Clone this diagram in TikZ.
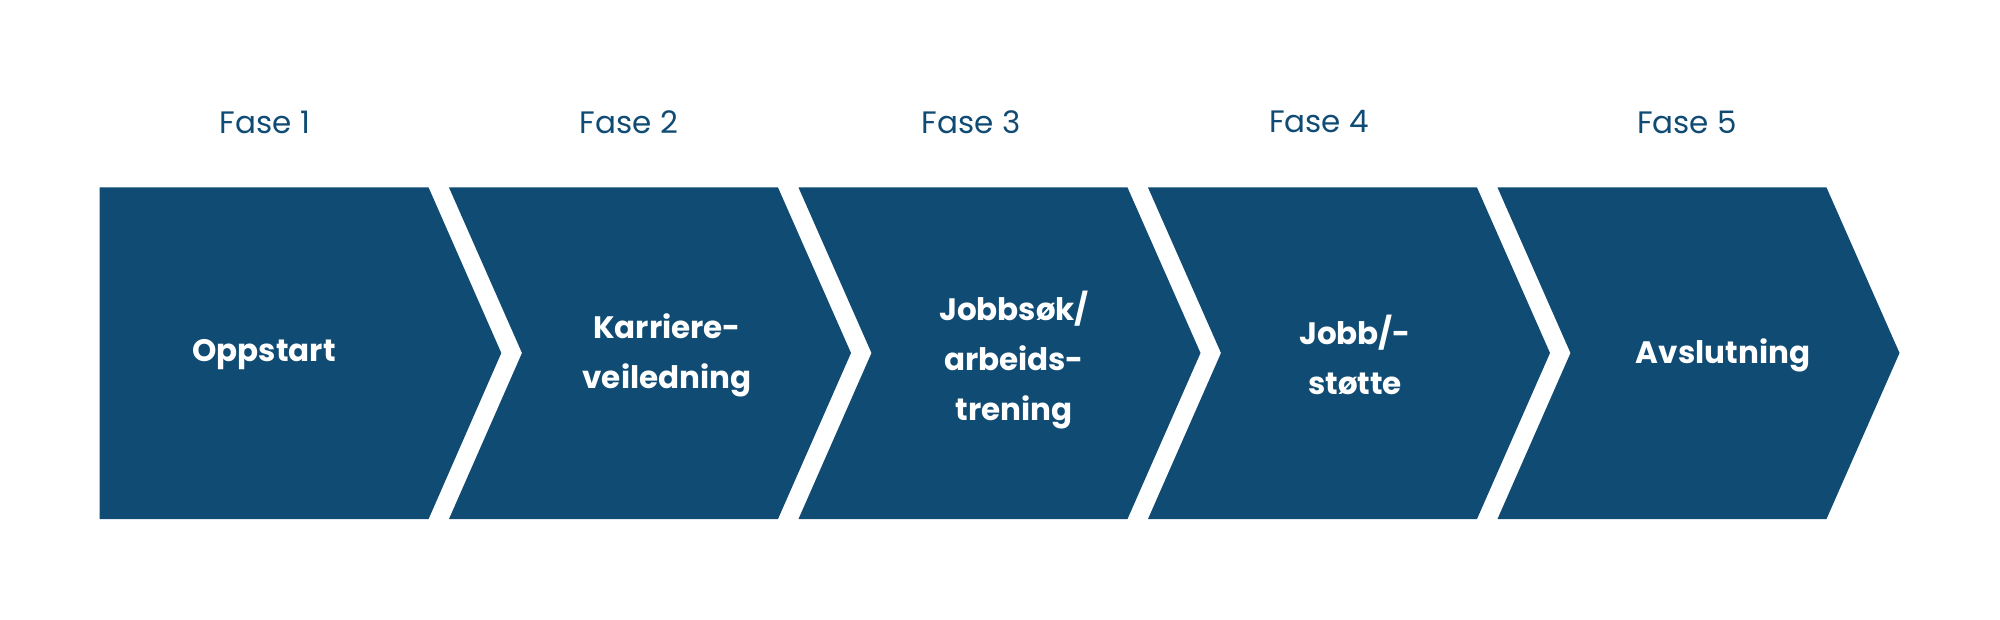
\documentclass[tikz,border=0pt]{standalone}
\usepackage{fontspec}
\setmainfont{Poppins}
\definecolor{navy}{HTML}{104B74}
\begin{document}
\begin{tikzpicture}[x=1pt,y=-1pt,
  phase/.style={fill=navy,draw=none},
  lbl/.style={text=navy,font=\fontsize{31}{36}\selectfont,anchor=center},
  inner/.style={text=white,font=\fontsize{31}{50}\selectfont\bfseries,align=center,anchor=center}]
\useasboundingbox (0,0) rectangle (2000,620);
\def\top{187.5}\def\bot{519}\def\mid{353}
% shape 1
\path[phase] (99.5,\top) -- (428.6,\top) -- (501.3,\mid) -- (428.6,\bot) -- (99.5,\bot) -- cycle;
\foreach \i in {1,2,3,4}{
  \pgfmathsetmacro{\L}{449+349.5*(\i-1)}
  \path[phase] (\L,\top) -- (\L+329,\top) -- (\L+402,\mid) -- (\L+329,\bot) -- (\L,\bot) -- (\L+73,\mid) -- cycle;
}
\node[lbl] (f1) at (265,122) {Fase 1};
\node[lbl] (f2) at (629,122) {Fase 2};
\node[lbl] (f3) at (971,122) {Fase 3};
\node[lbl] (f4) at (1319,122) {Fase 4};
\node[lbl] (f5) at (1687,122) {Fase 5};
\node[inner] (p1) at (264,355) {Oppstart};
\node[inner] (p2) at (667,355) {Karriere-\\veiledning};
\node[inner] (p3) at (1014,360) {Jobbsøk/\\arbeids-\\trening};
\node[inner] (p4) at (1355,355) {Jobb/-\\støtte};
\node[inner] (p5) at (1723,355) {Avslutning};
\end{tikzpicture}
\end{document}
